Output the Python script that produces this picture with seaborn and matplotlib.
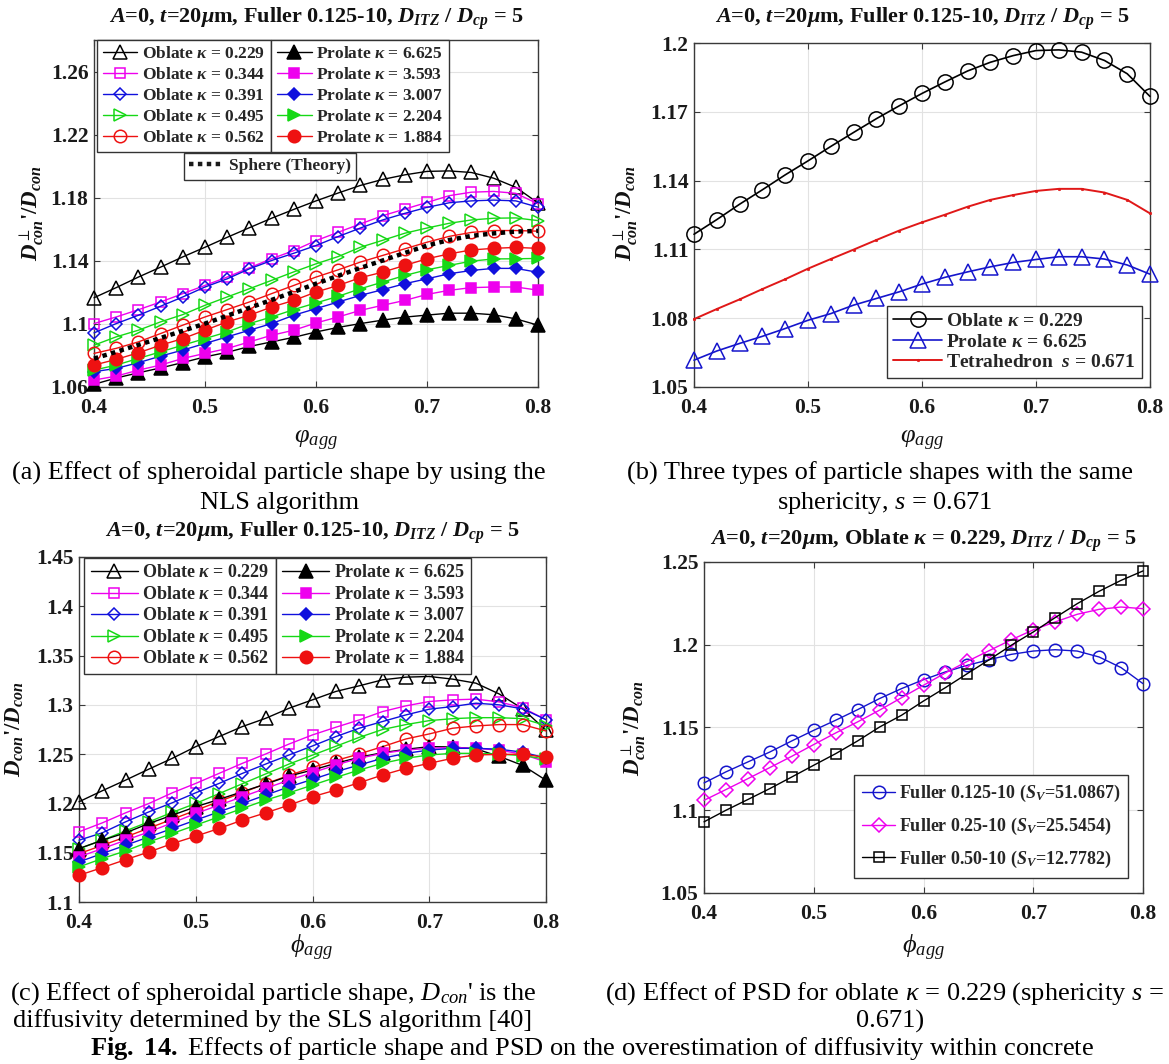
import numpy as np
import pandas as pd
import matplotlib
matplotlib.use("Agg")
import matplotlib.pyplot as plt
import seaborn as sns
from matplotlib.lines import Line2D
from matplotlib.legend import Legend

# ---------------- data ----------------
phi = [0.40, 0.42, 0.44, 0.46, 0.48, 0.50, 0.52, 0.54, 0.56, 0.58, 0.60,
       0.62, 0.64, 0.66, 0.68, 0.70, 0.72, 0.74, 0.76, 0.78, 0.80]

# panel (a) / (b): NLS algorithm
ob229 = [1.1166, 1.1230, 1.1297, 1.1360, 1.1425, 1.1486, 1.1549, 1.1610, 1.1670, 1.1726, 1.1780,
         1.1830, 1.1878, 1.1916, 1.1945, 1.1967, 1.1970, 1.1960, 1.1924, 1.1866, 1.1767]
a_ob344 = [1.1002, 1.1044, 1.1090, 1.1139, 1.1192, 1.1244, 1.1297, 1.1356, 1.1413, 1.1465, 1.1528,
           1.1581, 1.1634, 1.1686, 1.1728, 1.1770, 1.1813, 1.1835, 1.1840, 1.1828, 1.1761]
a_ob391 = [1.0943, 1.1002, 1.1055, 1.1112, 1.1171, 1.1234, 1.1286, 1.1349, 1.1402, 1.1448, 1.1497,
           1.1554, 1.1608, 1.1659, 1.1701, 1.1739, 1.1768, 1.1780, 1.1785, 1.1780, 1.1740]
a_ob495 = [1.0865, 1.0918, 1.0960, 1.1013, 1.1059, 1.1118, 1.1171, 1.1223, 1.1276, 1.1330, 1.1381,
           1.1427, 1.1486, 1.1530, 1.1575, 1.1608, 1.1638, 1.1659, 1.1670, 1.1672, 1.1655]
a_ob562 = [1.0813, 1.0845, 1.0886, 1.0939, 1.0992, 1.1044, 1.1091, 1.1139, 1.1192, 1.1244, 1.1297,
           1.1343, 1.1392, 1.1434, 1.1476, 1.1518, 1.1555, 1.1580, 1.1592, 1.1592, 1.1588]
pr6625 = [1.0617, 1.0657, 1.0690, 1.0721, 1.0755, 1.0791, 1.0820, 1.0857, 1.0886, 1.0915, 1.0949,
          1.0978, 1.1002, 1.1024, 1.1043, 1.1056, 1.1068, 1.1068, 1.1058, 1.1032, 1.0992]
a_pr3593 = [1.0644, 1.0669, 1.0707, 1.0739, 1.0781, 1.0813, 1.0844, 1.0886, 1.0928, 1.0960, 1.1006,
            1.1044, 1.1086, 1.1118, 1.1149, 1.1187, 1.1213, 1.1230, 1.1234, 1.1234, 1.1214]
a_pr3007 = [1.0697, 1.0718, 1.0754, 1.0796, 1.0834, 1.0876, 1.0918, 1.0960, 1.1002, 1.1055, 1.1097,
            1.1139, 1.1181, 1.1217, 1.1255, 1.1286, 1.1318, 1.1339, 1.1352, 1.1352, 1.1327]
a_pr2204 = [1.0707, 1.0739, 1.0781, 1.0823, 1.0865, 1.0907, 1.0949, 1.1002, 1.1044, 1.1091, 1.1133,
            1.1175, 1.1223, 1.1265, 1.1307, 1.1343, 1.1371, 1.1398, 1.1412, 1.1413, 1.1415]
a_pr1884 = [1.0739, 1.0775, 1.0817, 1.0865, 1.0907, 1.0960, 1.1013, 1.1055, 1.1107, 1.1149, 1.1202,
            1.1244, 1.1293, 1.1328, 1.1371, 1.1413, 1.1444, 1.1469, 1.1479, 1.1485, 1.1479]
sphere = [1.0780, 1.0823, 1.0867, 1.0911, 1.0956, 1.1002, 1.1052, 1.1102, 1.1152, 1.1203, 1.1255,
          1.1305, 1.1355, 1.1402, 1.1450, 1.1497, 1.1532, 1.1558, 1.1574, 1.1585, 1.1590]
tetra = [1.0796, 1.0840, 1.0882, 1.0927, 1.0970, 1.1016, 1.1058, 1.1099, 1.1141, 1.1182, 1.1218,
         1.1251, 1.1286, 1.1316, 1.1337, 1.1355, 1.1364, 1.1364, 1.1348, 1.1316, 1.1257]

# panel (c): SLS algorithm
c_ob229 = [1.2017, 1.2129, 1.2237, 1.2349, 1.2458, 1.2576, 1.2678, 1.2780, 1.2864, 1.2966, 1.3051,
           1.3136, 1.3193, 1.3254, 1.3281, 1.3288, 1.3261, 1.3220, 1.3110, 1.2960, 1.2742]
c_ob344 = [1.1712, 1.1803, 1.1905, 1.2000, 1.2108, 1.2203, 1.2305, 1.2407, 1.2502, 1.2603, 1.2695,
           1.2773, 1.2847, 1.2932, 1.2990, 1.3034, 1.3051, 1.3058, 1.3030, 1.2970, 1.2850]
c_ob391 = [1.1627, 1.1702, 1.1814, 1.1915, 1.2007, 1.2108, 1.2203, 1.2305, 1.2400, 1.2492, 1.2583,
           1.2678, 1.2763, 1.2831, 1.2898, 1.2956, 1.2983, 1.3017, 1.3000, 1.2960, 1.2850]
c_ob495 = [1.1540, 1.1627, 1.1722, 1.1814, 1.1910, 1.2000, 1.2100, 1.2200, 1.2300, 1.2400, 1.2490,
           1.2580, 1.2670, 1.2750, 1.2800, 1.2840, 1.2860, 1.2870, 1.2870, 1.2860, 1.2790]
c_ob562 = [1.1490, 1.1575, 1.1660, 1.1750, 1.1840, 1.1930, 1.2020, 1.2110, 1.2200, 1.2285, 1.2365,
           1.2435, 1.2502, 1.2576, 1.2654, 1.2705, 1.2763, 1.2786, 1.2800, 1.2800, 1.2735]
c_pr6625 = [1.1542, 1.1627, 1.1702, 1.1797, 1.1881, 1.1966, 1.2041, 1.2119, 1.2197, 1.2278, 1.2339,
            1.2407, 1.2468, 1.2515, 1.2549, 1.2576, 1.2573, 1.2553, 1.2477, 1.2386, 1.2235]
c_pr3593 = [1.1458, 1.1542, 1.1627, 1.1712, 1.1803, 1.1898, 1.1983, 1.2068, 1.2153, 1.2237, 1.2312,
            1.2390, 1.2458, 1.2508, 1.2542, 1.2559, 1.2569, 1.2559, 1.2540, 1.2500, 1.2420]
c_pr3007 = [1.1407, 1.1492, 1.1576, 1.1661, 1.1746, 1.1831, 1.1915, 1.2000, 1.2085, 1.2169, 1.2244,
            1.2322, 1.2390, 1.2458, 1.2508, 1.2542, 1.2559, 1.2559, 1.2550, 1.2520, 1.2460]
c_pr2204 = [1.1356, 1.1441, 1.1519, 1.1610, 1.1695, 1.1780, 1.1864, 1.1949, 1.2034, 1.2108, 1.2186,
            1.2264, 1.2339, 1.2407, 1.2458, 1.2492, 1.2508, 1.2508, 1.2500, 1.2485, 1.2450]
c_pr1884 = [1.1271, 1.1349, 1.1430, 1.1508, 1.1593, 1.1668, 1.1746, 1.1831, 1.1905, 1.1983, 1.2068,
            1.2136, 1.2210, 1.2288, 1.2356, 1.2407, 1.2458, 1.2492, 1.2497, 1.2500, 1.2467]

# panel (d): PSD
d_f0125 = [1.1165, 1.1232, 1.1292, 1.1352, 1.1419, 1.1483, 1.1544, 1.1608, 1.1675, 1.1735, 1.1789,
           1.1836, 1.1876, 1.1910, 1.1942, 1.1962, 1.1970, 1.1962, 1.1926, 1.1862, 1.1765]
d_f025 = [1.1060, 1.1125, 1.1191, 1.1258, 1.1326, 1.1397, 1.1467, 1.1534, 1.1605, 1.1680, 1.1755,
          1.1830, 1.1900, 1.1965, 1.2030, 1.2090, 1.2138, 1.2184, 1.2214, 1.2228, 1.2218]
d_f050 = [1.0930, 1.1000, 1.1065, 1.1131, 1.1201, 1.1272, 1.1342, 1.1419, 1.1503, 1.1574, 1.1660,
          1.1741, 1.1826, 1.1910, 1.1997, 1.2077, 1.2164, 1.2248, 1.2323, 1.2389, 1.2446]

oblate_labels = [r"Oblate $\kappa$ = 0.229", r"Oblate $\kappa$ = 0.344", r"Oblate $\kappa$ = 0.391",
                 r"Oblate $\kappa$ = 0.495", r"Oblate $\kappa$ = 0.562"]
prolate_labels = [r"Prolate $\kappa$ = 6.625", r"Prolate $\kappa$ = 3.593", r"Prolate $\kappa$ = 3.007",
                  r"Prolate $\kappa$ = 2.204", r"Prolate $\kappa$ = 1.884"]
b_labels = [r"Oblate $\kappa$ = 0.229", r"Prolate $\kappa$ = 6.625", r"Tetrahedron  $s$ = 0.671"]
d_labels = [r"Fuller 0.125-10 ($S_V$=51.0867)", r"Fuller 0.25-10 ($S_V$=25.5454)",
            r"Fuller 0.50-10 ($S_V$=12.7782)"]

x_ticks = [0.4, 0.5, 0.6, 0.7, 0.8]
x_ticklabels = ["0.4", "0.5", "0.6", "0.7", "0.8"]
a_yticks = [1.06, 1.10, 1.14, 1.18, 1.22, 1.26]
a_yticklabels = ["1.06", "1.1", "1.14", "1.18", "1.22", "1.26"]
b_yticks = [1.05, 1.08, 1.11, 1.14, 1.17, 1.20]
b_yticklabels = ["1.05", "1.08", "1.11", "1.14", "1.17", "1.2"]
c_yticks = [1.10, 1.15, 1.20, 1.25, 1.30, 1.35, 1.40, 1.45]
c_yticklabels = ["1.1", "1.15", "1.2", "1.25", "1.3", "1.35", "1.4", "1.45"]
d_yticks = [1.05, 1.10, 1.15, 1.20, 1.25]
d_yticklabels = ["1.05", "1.1", "1.15", "1.2", "1.25"]

# ---------------- style ----------------
sns.set_theme(style="whitegrid", rc={
    "grid.color": "#e2e2e2", "grid.linewidth": 0.8,
    "axes.edgecolor": "#3a3a3a", "axes.linewidth": 1.0,
})
plt.rcParams.update({
    "font.family": ["Liberation Serif", "DejaVu Serif"],
    "mathtext.fontset": "custom",
    "mathtext.rm": "Liberation Serif:bold",
    "mathtext.it": "Liberation Serif:italic:bold",
    "mathtext.bf": "Liberation Serif:bold",
    "mathtext.sf": "Liberation Serif:italic",
    "mathtext.tt": "Liberation Serif",
    "mathtext.fallback": "stix",
})

W, H = 1169, 1064
fig = plt.figure(figsize=(W / 100, H / 100), dpi=100)
fig.patch.set_facecolor("white")


def fx(x):
    return x / W


def fy(y):
    return 1 - y / H


def add_ax(x0, y0, x1, y1):
    return fig.add_axes([fx(x0), fy(y1), (x1 - x0) / W, (y1 - y0) / H])


K, M, B, G, R = "#000000", "#ee00ee", "#1010dd", "#16d816", "#ee1111"


def draw(ax, y, color, marker, ms, filled, lw=1.0, ls="-", mew=1.1, z=3):
    sns.lineplot(x=phi, y=y, ax=ax, color=color, marker=marker, markersize=ms,
                 markerfacecolor=(color if filled else "none"), markeredgecolor=color,
                 markeredgewidth=mew, linewidth=lw, linestyle=ls, estimator=None,
                 errorbar=None, legend=False, zorder=z)
    ln = ax.lines[-1]
    ln.set_clip_on(False)
    return ln


def style_ax(ax, ylim, yt, ytl):
    ax.set_xlim(0.4, 0.8)
    ax.set_ylim(*ylim)
    ax.set_xticks(x_ticks, labels=x_ticklabels)
    ax.set_yticks(yt, labels=ytl)
    ax.tick_params(direction="in", length=4, width=0.8, colors="#3a3a3a",
                   labelcolor="#1a1a1a", labelsize=15.5, top=True, right=True,
                   bottom=True, left=True)
    ax.tick_params(axis="x", pad=8)
    ax.tick_params(axis="y", pad=4)
    for t in ax.get_xticklabels() + ax.get_yticklabels():
        t.set_fontweight("bold")
    ax.grid(True)
    ax.set_xlabel("")
    ax.set_ylabel("")
    for s in ax.spines.values():
        s.set_color("#3a3a3a")
        s.set_linewidth(1.0)


def legend_at(ax, handles, labels, loc, xy, size, **kw):
    leg = Legend(ax, handles, labels, loc=loc, bbox_to_anchor=(fx(xy[0]), fy(xy[1])),
                 bbox_transform=fig.transFigure, borderaxespad=0, fancybox=False,
                 framealpha=1, edgecolor="#333333", facecolor="white",
                 prop={"weight": "bold", "size": size, "family": "Liberation Serif"}, **kw)
    leg.get_frame().set_linewidth(1.0)
    leg.set_zorder(10)
    ax.add_artist(leg)
    return leg


title_main = r"$A$=0, $t$=20$\mu$m, Fuller 0.125-10, $D_{ITZ}$ / $D_{cp}$ = 5"
title_d = r"$A$=0, $t$=20$\mu$m, Oblate $\kappa$ = 0.229, $D_{ITZ}$ / $D_{cp}$ = 5"
ylab_perp = r"$D_{con}^{\perp}$'/$D_{con}$"
ylab_sls = r"$D_{con}$'/$D_{con}$"


def ftext(x, y, s, **kw):
    fig.text(fx(x), fy(y), s, **kw)


# ---------------- panel (a) ----------------
axa = add_ax(94, 40, 538, 387)
ob_a = [ob229, a_ob344, a_ob391, a_ob495, a_ob562]
pr_a = [pr6625, a_pr3593, a_pr3007, a_pr2204, a_pr1884]
cols = [K, M, B, G, R]
mk = ["^", "s", "D", ">", "o"]
ms_ = [9.5, 7.5, 6.5, 9, 9]
h_ob, h_pr = [], []
for y, c, m, s in zip(ob_a, cols, mk, ms_):
    h_ob.append(draw(axa, y, c, m, s, False))
for y, c, m, s in zip(pr_a, cols, mk, ms_):
    h_pr.append(draw(axa, y, c, m, s, True))
h_sph = draw(axa, sphere, K, None, 0, False, lw=3.2, ls=":", z=4)
h_sph.set_linestyle((0, (1, 1)))
style_ax(axa, (1.06, 1.28), a_yticks, a_yticklabels)
lkw = dict(handlelength=2.0, handletextpad=0.25, labelspacing=0.27, borderpad=0.35)
legend_at(axa, h_ob, oblate_labels, "upper right", (271, 40), 12.5, **lkw)
legend_at(axa, h_pr, prolate_labels, "upper left", (271, 40), 12.5, **lkw)
hs = Line2D([], [], color="k", lw=3.2, linestyle=(0, (1, 1)))
legend_at(axa, [hs], ["Sphere (Theory)"], "upper center", (270, 153), 12.5,
          handlelength=2.0, handletextpad=0.25, borderpad=0.3)

# ---------------- panel (b) ----------------
axb = add_ax(694, 43, 1150, 387)
hb1 = draw(axb, ob229, K, "o", 11, False, lw=1.2, mew=1.1)
hb2 = draw(axb, pr6625, "#1515cc", "^", 11, False, lw=1.2, mew=1.1)
hb3 = draw(axb, tetra, "#e01818", ".", 3.5, True, lw=1.4, mew=0.5)
style_ax(axb, (1.05, 1.20), b_yticks, b_yticklabels)
legend_at(axb, [hb1, hb2, hb3], b_labels, "lower right", (1142, 378), 14,
          handlelength=2.5, handletextpad=0.2, labelspacing=0.15, borderpad=0.35)

# ---------------- panel (c) ----------------
axc = add_ax(79, 557, 546, 902)
ob_c = [c_ob229, c_ob344, c_ob391, c_ob495, c_ob562]
pr_c = [c_pr6625, c_pr3593, c_pr3007, c_pr2204, c_pr1884]
hc_ob, hc_pr = [], []
for y, c, m, s in zip(ob_c, cols, mk, ms_):
    hc_ob.append(draw(axc, y, c, m, s, False))
for y, c, m, s in zip(pr_c, cols, mk, ms_):
    hc_pr.append(draw(axc, y, c, m, s, True))
style_ax(axc, (1.10, 1.45), c_yticks, c_yticklabels)
ckw_leg = dict(handlelength=2.6, handletextpad=0.25, labelspacing=0.25, borderpad=0.35)
legend_at(axc, hc_ob, oblate_labels, "upper right", (276, 558), 13, **ckw_leg)
legend_at(axc, hc_pr, prolate_labels, "upper left", (276, 558), 13, **ckw_leg)

# ---------------- panel (d) ----------------
axd = add_ax(704, 562, 1143, 893)
hd1 = draw(axd, d_f0125, "#1515cc", "o", 9, False)
hd2 = draw(axd, d_f025, M, "D", 7, False)
hd3 = draw(axd, d_f050, K, "s", 7.5, False)
style_ax(axd, (1.05, 1.25), d_yticks, d_yticklabels)
legend_at(axd, [hd1, hd2, hd3], d_labels, "lower right", (1128, 878), 13,
          handlelength=1.8, handletextpad=0.2, labelspacing=0.65, borderpad=0.45)

# ---------------- titles, labels ----------------
tkw = dict(ha="center", va="baseline", fontsize=16, fontweight="bold", color="#111")
ftext(316, 23, title_main, **tkw)
ftext(922, 23, title_main, **tkw)
ftext(312, 537, title_main, **tkw)
ftext(924, 545, title_d, **tkw)

ykw = dict(ha="center", va="center", rotation=90, fontsize=16.5, fontweight="bold", color="#111")
ftext(32, 213, ylab_perp, **ykw)
ftext(626, 213, ylab_perp, **ykw)
ftext(15, 729, ylab_sls, **ykw)
ftext(634, 728, ylab_perp, **ykw)

xkw = dict(ha="center", va="center", fontsize=19, color="#111")
ftext(316, 441, r"$\mathsf{\varphi_{agg}}$", **xkw)
ftext(922, 441, r"$\mathsf{\varphi_{agg}}$", **xkw)
ftext(312, 948, r"$\mathsf{\phi_{agg}}$", **xkw)
ftext(924, 948, r"$\mathsf{\phi_{agg}}$", **xkw)

ckw = dict(ha="center", va="center", fontsize=19, color="#000")
ftext(279, 473, "(a) Effect of spheroidal particle shape by using the", **ckw)
ftext(280, 503, "NLS algorithm", **ckw)
ftext(880, 473, "(b) Three types of particle shapes with the same", **ckw)
ftext(885, 503, r"sphericity, $\mathsf{s}$ = 0.671", **ckw)
ftext(273, 994, r"(c) Effect of spheroidal particle shape, $\mathsf{D_{con}}$' is the", **ckw)
ftext(273, 1021, "diffusivity determined by the SLS algorithm [40]", **ckw)
ftext(884, 994, r"(d) Effect of PSD for oblate $\mathsf{\kappa}$ = 0.229 (sphericity $\mathsf{s}$ =", **ckw)
ftext(890, 1021, "0.671)", **ckw)
ftext(592, 1048, r"$\mathbf{Fig.}$ $\mathbf{14.}$ Effects of particle shape and PSD on the overestimation of diffusivity within concrete", **ckw)

fig.savefig("out.png", dpi=100, facecolor="white")
